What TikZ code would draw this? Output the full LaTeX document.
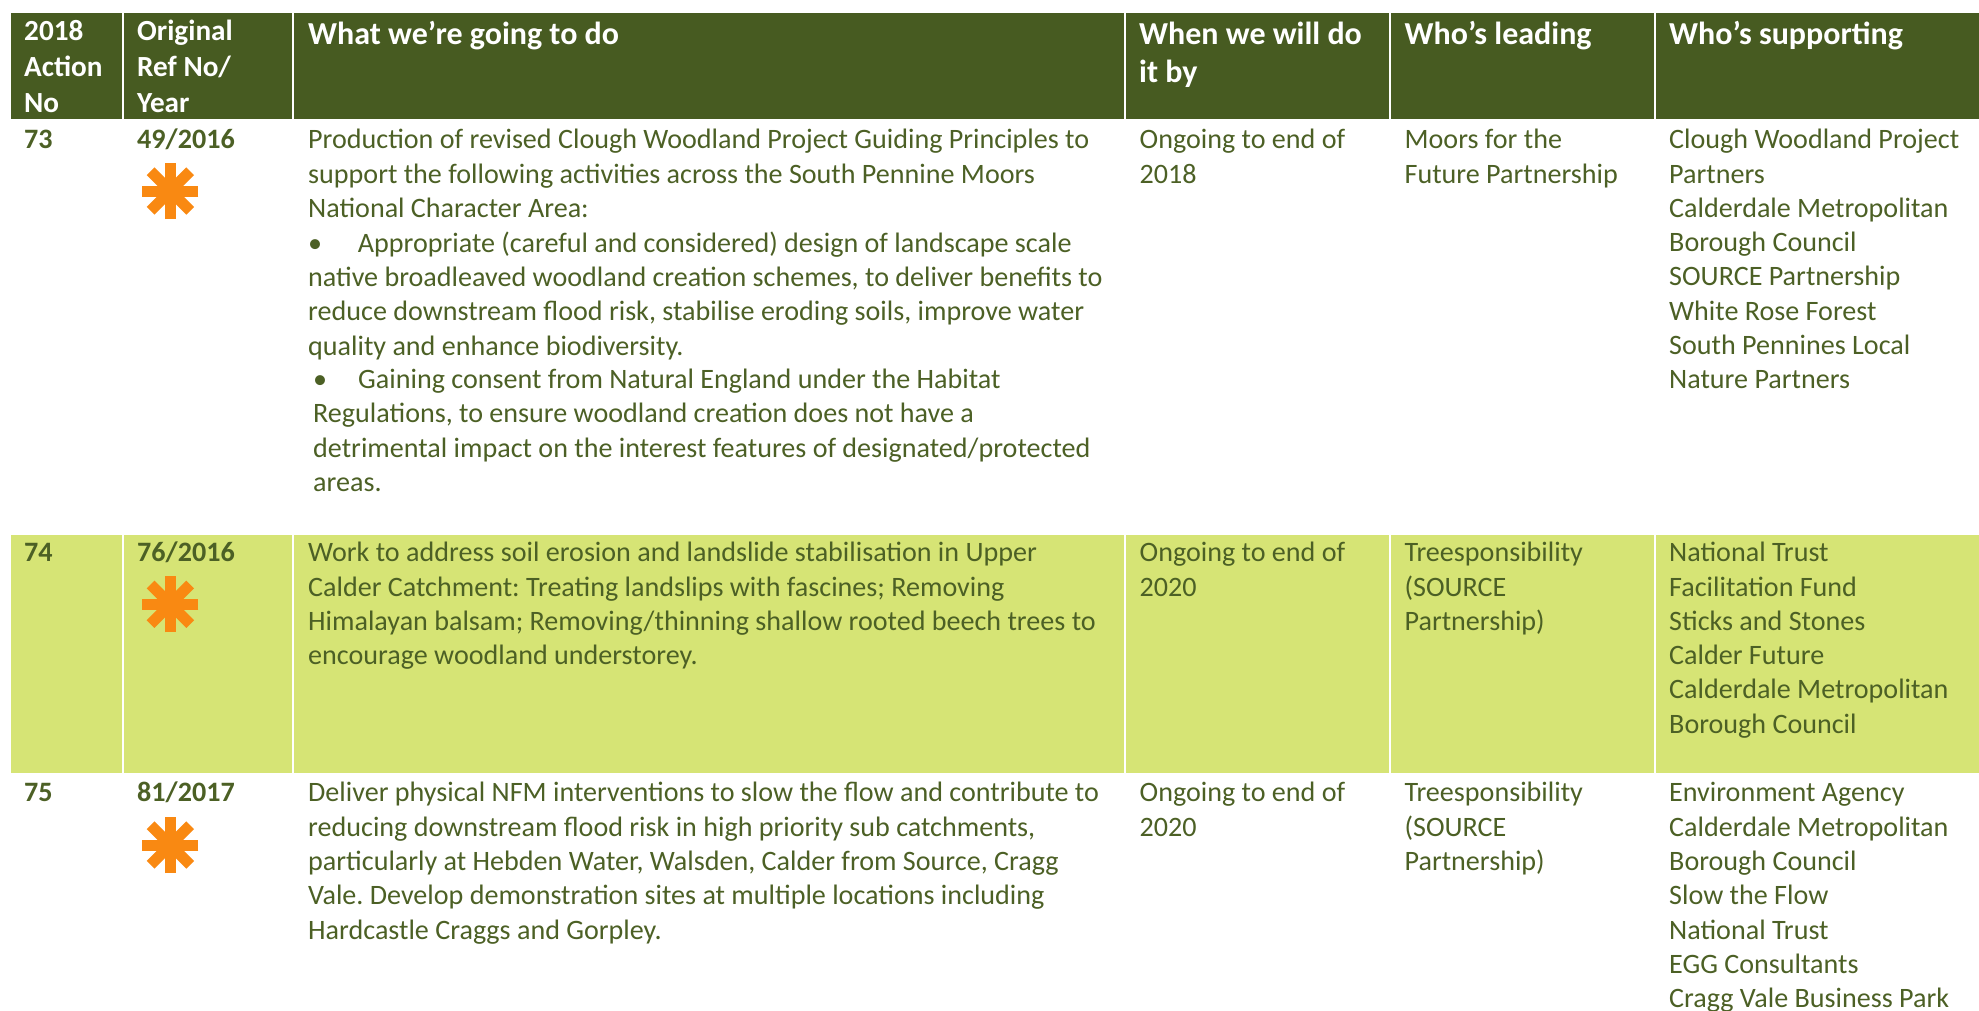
\documentclass[tikz,border=0pt]{standalone}
\usepackage{fontspec}
\setmainfont{Carlito}
\usetikzlibrary{calc}
\definecolor{hdr}{HTML}{475B21}
\definecolor{band}{HTML}{D6E475}
\definecolor{ink}{HTML}{4C6025}
\definecolor{star}{HTML}{F98912}
\tikzset{
  x=1pt,y=-1pt,
  hcell/.style={fill=hdr},
  bcell/.style={fill=band},
  hbig/.style={anchor=north west,inner sep=0pt,align=left,text=white,font=\fontsize{32}{38}\selectfont\bfseries\frenchspacing},
  hsmall/.style={anchor=north west,inner sep=0pt,align=left,text=white,font=\fontsize{29.2}{36}\selectfont\bfseries\frenchspacing},
  cell/.style={anchor=north west,inner sep=0pt,align=left,text=ink,font=\fontsize{28.1}{34.3}\selectfont\frenchspacing},
  bcelltext/.style={cell,font=\fontsize{28.1}{34.3}\selectfont\bfseries\frenchspacing},
  arm/.style={draw=star,line width=11pt,line cap=butt},
}
% first-line strut: top of the node lies 24pt above the first baseline
\newcommand{\fl}{\rule{0pt}{24pt}}
\newcommand{\asterisk}[2]{%
  \foreach \a in {0,45,90,135}{
    \draw[arm] ($(#1,#2)+(\a:28)$) -- ($(#1,#2)+(\a+180:28)$);
  }}
\begin{document}
\begin{tikzpicture}
\useasboundingbox (0,0) rectangle (1979,1010);
% header cells
\fill[hcell] (11,13) rectangle (122,118.7);
\fill[hcell] (124,13) rectangle (292,118.7);
\fill[hcell] (294,13) rectangle (1124,118.7);
\fill[hcell] (1126,13) rectangle (1389,118.7);
\fill[hcell] (1391,13) rectangle (1654,118.7);
\fill[hcell] (1656,13) rectangle (1979,118.7);
% band cells
\fill[bcell] (11,535) rectangle (122,772.7);
\fill[bcell] (124,535) rectangle (292,772.7);
\fill[bcell] (294,535) rectangle (1124,772.7);
\fill[bcell] (1126,535) rectangle (1389,772.7);
\fill[bcell] (1391,535) rectangle (1654,772.7);
\fill[bcell] (1656,535) rectangle (1979,772.7);
% header text
\node[hsmall] (h1) at (24,16.6) {\fl 2018\\Action\\No};
\node[hsmall] (h2) at (137,16.6) {\fl Original\\Ref No/\\Year};
\node[hbig] (h3) at (308,20.5) {\fl What we’re going to do};
\node[hbig] (h4) at (1139,20.5) {\fl When we will do\\it by};
\node[hbig] (h5) at (1404.4,20.5) {\fl Who’s leading};
\node[hbig] (h6) at (1669,20.5) {\fl Who’s supporting};
% row 73
\node[bcelltext] (a73) at (24,124.5) {\fl 73};
\node[bcelltext] (r73) at (137,124.5) {\fl 49/2016};
\asterisk{170.4}{191}
\node[cell] (w73a) at (308,124.5) {\fl Production of revised Clough Woodland Project Guiding Principles to\\support the following activities across the South Pennine Moors\\National Character Area:};
\node[cell] (w73b) at (308,228) {\fl •\hspace{35.7pt}Appropriate (careful and considered) design of landscape scale\\native broadleaved woodland creation schemes, to deliver benefits to\\reduce downstream flood risk, stabilise eroding soils, improve water\\quality and enhance biodiversity.};
\node[cell] (w73c) at (313,364.4) {\fl •\hspace{31pt}Gaining consent from Natural England under the Habitat\\Regulations, to ensure woodland creation does not have a\\detrimental impact on the interest features of designated/protected\\areas.};
\node[cell] (b73) at (1139.5,124.5) {\fl Ongoing to end of\\2018};
\node[cell] (l73) at (1404.4,124.5) {\fl Moors for the\\Future Partnership};
\node[cell] (s73) at (1669,124.5) {\fl Clough Woodland Project\\Partners\\Calderdale Metropolitan\\Borough Council\\SOURCE Partnership\\White Rose Forest\\South Pennines Local\\Nature Partners};
% row 74
\node[bcelltext] (a74) at (24,537.5) {\fl 74};
\node[bcelltext] (r74) at (137,537.5) {\fl 76/2016};
\asterisk{170.4}{604.3}
\node[cell] (w74) at (308,537.5) {\fl Work to address soil erosion and landslide stabilisation in Upper\\Calder Catchment: Treating landslips with fascines; Removing\\Himalayan balsam; Removing/thinning shallow rooted beech trees to\\encourage woodland understorey.};
\node[cell] (b74) at (1139.5,537.5) {\fl Ongoing to end of\\2020};
\node[cell] (l74) at (1404.4,537.5) {\fl Treesponsibility\\(SOURCE\\Partnership)};
\node[cell] (s74) at (1669,537.5) {\fl National Trust\\Facilitation Fund\\Sticks and Stones\\Calder Future\\Calderdale Metropolitan\\Borough Council};
% row 75
\node[bcelltext] (a75) at (24,777.6) {\fl 75};
\node[bcelltext] (r75) at (137,777.6) {\fl 81/2017};
\asterisk{170.4}{845}
\node[cell] (w75) at (308,777.6) {\fl Deliver physical NFM interventions to slow the flow and contribute to\\reducing downstream flood risk in high priority sub catchments,\\particularly at Hebden Water, Walsden, Calder from Source, Cragg\\Vale. Develop demonstration sites at multiple locations including\\Hardcastle Craggs and Gorpley.};
\node[cell] (b75) at (1139.5,777.6) {\fl Ongoing to end of\\2020};
\node[cell] (l75) at (1404.4,777.6) {\fl Treesponsibility\\(SOURCE\\Partnership)};
\node[cell] (s75) at (1669,777.6) {\fl Environment Agency\\Calderdale Metropolitan\\Borough Council\\Slow the Flow\\National Trust\\EGG Consultants\\Cragg Vale Business Park};
\end{tikzpicture}
\end{document}
